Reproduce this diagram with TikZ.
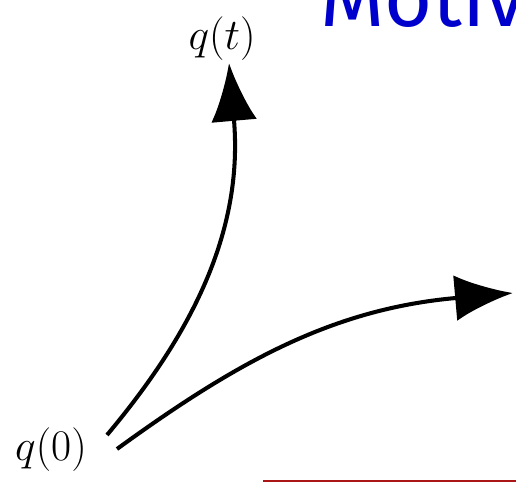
\documentclass[tikz,border=0pt]{standalone}
\usepackage{fontspec}
\usepackage{xcolor}
\usepackage{tikz}
\usetikzlibrary{arrows.meta, calc}
\newfontfamily\slidefont{Fira Sans}
\definecolor{slideblue}{RGB}{0,0,204}
\definecolor{slidered}{RGB}{170,22,22}

\begin{document}
\begin{tikzpicture}[
  x=0.02cm, y=0.02cm,
  qlabel/.style={inner sep=0pt, font=\fontsize{24.5}{29}\selectfont},
  flow/.style={-{Latex[length=33pt, width=26pt]}, line width=2.3pt},
  title/.style={inner sep=0pt, anchor=base west, text=slideblue,
                font=\slidefont\fontsize{47}{56}\selectfont},
]
\useasboundingbox (0,0) rectangle (516,482);

% slide title, cut by the frame
\node[title] (head) at (320,455) {Motiv};

% labels of the two curves
\node[qlabel] (qt) at (222,443) {$q(t)$};
\node[qlabel] (q0) at (51,32)   {$q(0)$};

% ends of the curves
\coordinate (s1) at (107,47);
\coordinate (s2) at (117,33);
\coordinate (e1) at (229,419);
\coordinate (e2) at (513,189);

\draw[flow] (s1) .. controls +(50:130) and +(-85:170) .. (e1);
\draw[flow] (s2) .. controls +(36:150) and +(185:180) .. (e2);

% rule at the bottom
\coordinate (r1) at (263,1.3);
\coordinate (r2) at (516,1.3);
\draw[slidered, line width=1.1pt] (r1) -- (r2);

\end{tikzpicture}
\end{document}
